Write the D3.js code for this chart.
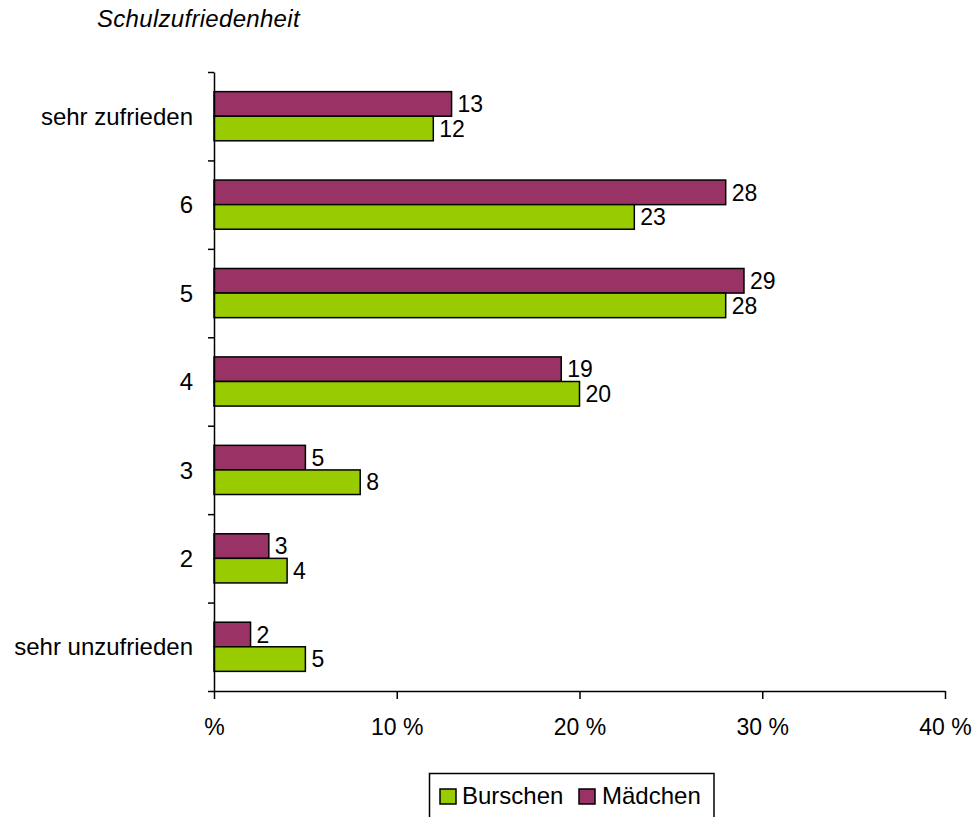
<!DOCTYPE html>
<html>
<head>
<meta charset="utf-8">
<script src="https://cdn.jsdelivr.net/npm/d3@7"></script>
<style>
  html, body { margin: 0; padding: 0; background: #fff; }
  svg text { font-family: "Liberation Sans", Arial, sans-serif; fill: #000; }
</style>
</head>
<body>
<svg id="chart" width="975" height="817"></svg>
<script>
// Antworten von oben nach unten
const categories = ["sehr zufrieden", "6", "5", "4", "3", "2", "sehr unzufrieden"];
const seriesNames = ["Mädchen", "Burschen"];
const maedchen = [13, 28, 29, 19, 5, 3, 2];
const burschen = [12, 23, 28, 20, 8, 4, 5];
const xTicks = [0, 10, 20, 30, 40];
const colors = { "Mädchen": "#993366", "Burschen": "#99CC00" };

const svg = d3.select("#chart");
const fontSize = 23;

const x = d3.scaleLinear().domain([0, 40]).range([214, 945]);
const y = d3.scaleBand().domain(categories).range([72, 691]).padding(0);
const inner = d3.scaleBand().domain(seriesNames)
  .range([y.step() * 0.222, y.step() * 0.778]).padding(0);

const rows = categories.map((c, i) => ({
  cat: c,
  values: [
    { name: "Mädchen", v: maedchen[i] },
    { name: "Burschen", v: burschen[i] }
  ]
}));

// Titel
svg.append("text")
  .attr("x", 97).attr("y", 27)
  .style("font-style", "italic")
  .style("font-size", "24px")
  .style("letter-spacing", "0.3px")
  .text("Schulzufriedenheit");

// Balken
const groups = svg.append("g").selectAll("g").data(rows).join("g")
  .attr("transform", d => `translate(0,${y(d.cat)})`);

groups.selectAll("rect").data(d => d.values).join("rect")
  .attr("x", x(0))
  .attr("y", d => inner(d.name))
  .attr("width", d => x(d.v) - x(0))
  .attr("height", inner.bandwidth())
  .attr("fill", d => colors[d.name])
  .attr("stroke", "#000")
  .attr("stroke-width", 1.5);

groups.selectAll("text.val").data(d => d.values).join("text")
  .attr("class", "val")
  .attr("x", d => x(d.v) + 6)
  .attr("y", d => inner(d.name) + inner.bandwidth() / 2)
  .attr("dy", "0.36em")
  .style("font-size", fontSize + "px")
  .text(d => d.v);

// Kategorienbeschriftung
svg.append("g").selectAll("text").data(categories).join("text")
  .attr("x", 193)
  .attr("y", d => y(d) + y.bandwidth() / 2)
  .attr("dy", "0.36em")
  .attr("text-anchor", "end")
  .style("font-size", "24px")
  .text(d => d);

// y-Achse: Teilstriche an den Kategoriengrenzen
const yEdges = d3.scaleLinear().domain([0, categories.length]).range([72, 691]);
const yAxis = svg.append("g")
  .attr("transform", `translate(${x(0)},0)`)
  .call(d3.axisLeft(yEdges).ticks(categories.length).tickSize(6).tickSizeOuter(0).tickFormat(""));
yAxis.selectAll("path, line").attr("stroke", "#000").attr("stroke-width", 1.5);

// x-Achse
const xAxis = svg.append("g")
  .attr("transform", "translate(0,691)")
  .call(d3.axisBottom(x).tickValues(xTicks).tickSize(8).tickSizeOuter(0)
    .tickFormat(d => d === 0 ? "%" : d + " %"));
xAxis.selectAll("path, line").attr("stroke", "#000").attr("stroke-width", 1.5);
xAxis.selectAll("text")
  .attr("y", 28)
  .style("font-size", fontSize + "px")
  .style("font-family", "'Liberation Sans', Arial, sans-serif")
  .attr("fill", "#000");

// Legende
const legend = svg.append("g");
legend.append("rect")
  .attr("x", 429.5).attr("y", 773.5)
  .attr("width", 284.5).attr("height", 60)
  .attr("fill", "#fff").attr("stroke", "#000").attr("stroke-width", 1.5);

const legendItems = [
  { name: "Burschen", sx: 440, tx: 462 },
  { name: "Mädchen", sx: 579, tx: 602 }
];
legendItems.forEach(it => {
  legend.append("rect")
    .attr("x", it.sx).attr("y", 789)
    .attr("width", 16).attr("height", 15)
    .attr("fill", colors[it.name]).attr("stroke", "#000").attr("stroke-width", 1.5);
  legend.append("text")
    .attr("x", it.tx).attr("y", 804)
    .style("font-size", "24px")
    .text(it.name);
});
</script>
</body>
</html>
